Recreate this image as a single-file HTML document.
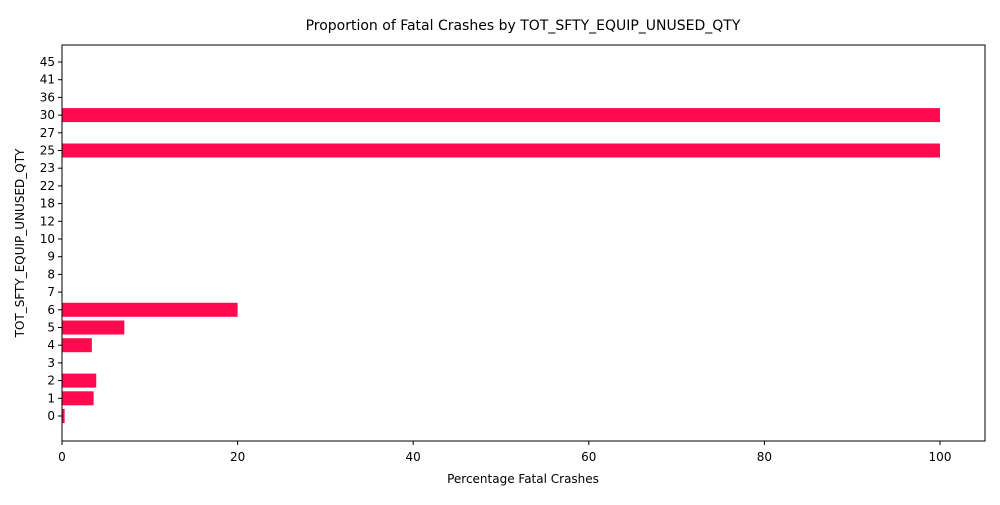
<!DOCTYPE html>
<html><head><meta charset="utf-8"><style>
body{margin:0;background:#fff;font-family:"Liberation Sans","DejaVu Sans",sans-serif;}
svg text{font-family:"DejaVu Sans","Liberation Sans",sans-serif;}
</style></head><body>
<svg id="chart" width="1000" height="500">
<text x="523" y="30" font-size="14" text-anchor="middle">Proportion of Fatal Crashes by TOT_SFTY_EQUIP_UNUSED_QTY</text>
<g id="bars"></g><g id="yticks"></g><g id="xticks"></g>
<rect x="62" y="45" width="923" height="396" fill="none" stroke="#000" stroke-width="1"/>
<text x="523" y="483" font-size="12" text-anchor="middle">Percentage Fatal Crashes</text>
<text transform="translate(24,243) rotate(-90)" font-size="12" text-anchor="middle">TOT_SFTY_EQUIP_UNUSED_QTY</text>
</svg>
<script>
const categories=["0","1","2","3","4","5","6","7","8","9","10","12","18","22","23","25","27","30","36","41","45"];
const values=[0.3,3.6,3.9,0,3.4,7.1,20,0,0,0,0,0,0,0,0,100,0,100,0,0,0];
const xTicks=[0,20,40,60,80,100];
const NS="http://www.w3.org/2000/svg";
function xs(v){return 62+v*8.78;}
function ys(i){return 416-i*17.7;}
const bars=document.getElementById('bars'),yt=document.getElementById('yticks'),xt=document.getElementById('xticks');
categories.forEach((c,i)=>{
  const r=document.createElementNS(NS,'rect');
  
  
  r.setAttribute('x',xs(0));r.setAttribute('y',ys(i)-7);
  r.setAttribute('width',Math.max(0,xs(values[i])-xs(0)));r.setAttribute('height',14);
  r.setAttribute('fill','#ff0a4e');bars.appendChild(r);
  const l=document.createElementNS(NS,'line');
  
  
  l.setAttribute('x1',58);l.setAttribute('x2',62);l.setAttribute('y1',ys(i));l.setAttribute('y2',ys(i));l.setAttribute('stroke','#000');yt.appendChild(l);
  const t=document.createElementNS(NS,'text');
  
  
  t.setAttribute('x',55);t.setAttribute('y',ys(i)+4);t.setAttribute('font-size','12');t.setAttribute('text-anchor','end');t.textContent=c;yt.appendChild(t);
});
xTicks.forEach(v=>{
  const l=document.createElementNS(NS,'line');
  
  
  l.setAttribute('x1',xs(v));l.setAttribute('x2',xs(v));l.setAttribute('y1',441);l.setAttribute('y2',445);l.setAttribute('stroke','#000');xt.appendChild(l);
  const t=document.createElementNS(NS,'text');
  
  
  t.setAttribute('x',xs(v));t.setAttribute('y',461);t.setAttribute('font-size','12');t.setAttribute('text-anchor','middle');t.textContent=v;xt.appendChild(t);
});
</script>
</body></html>
